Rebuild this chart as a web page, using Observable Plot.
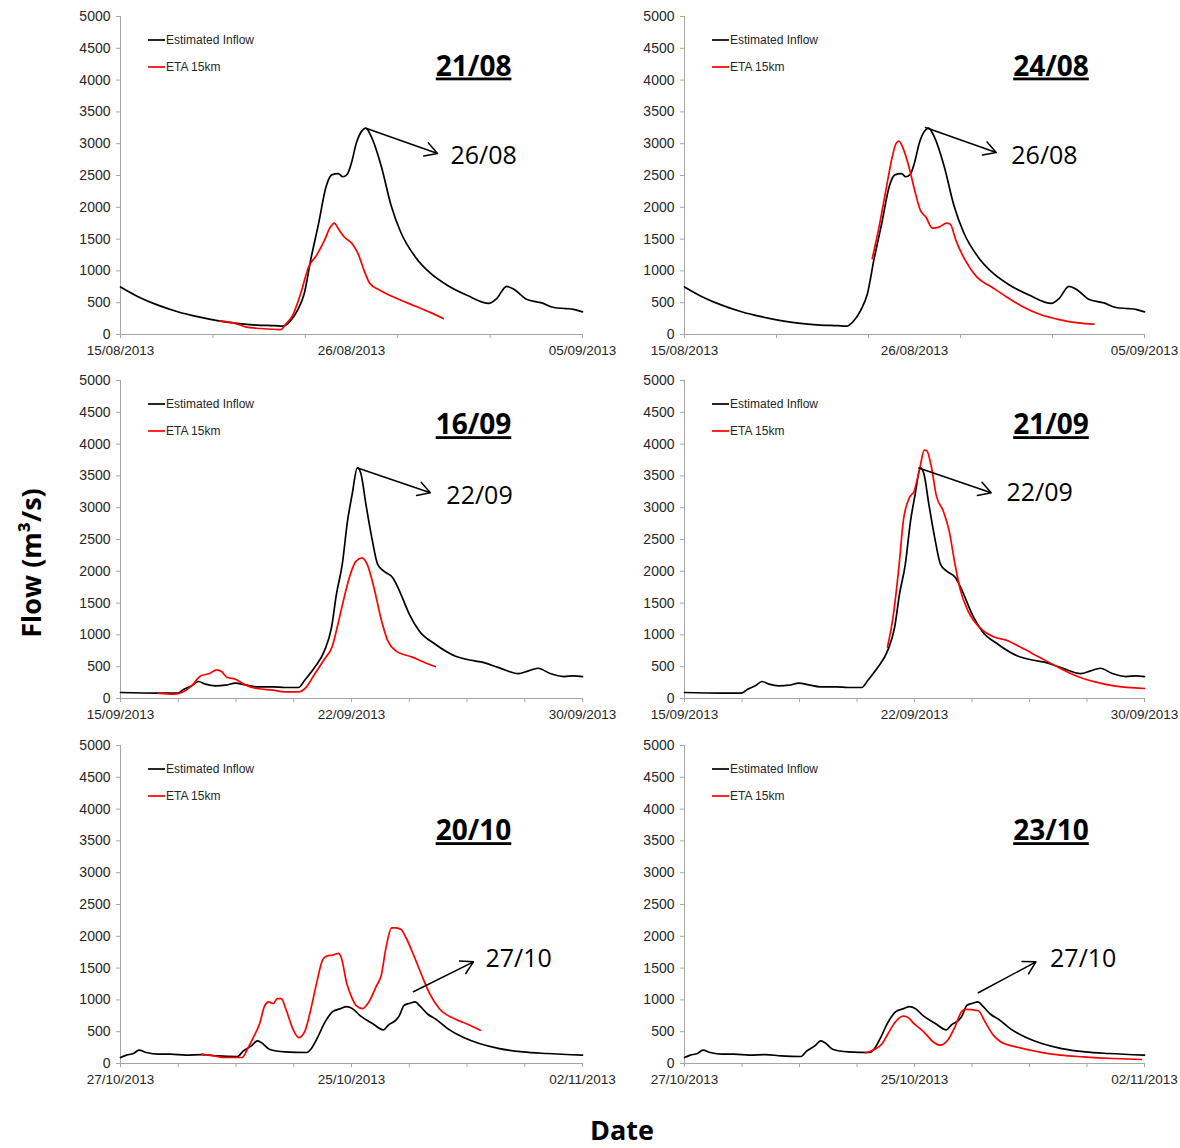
<!DOCTYPE html>
<html><head><meta charset="utf-8">
<script src="https://cdn.jsdelivr.net/npm/d3@7"></script>
<script src="https://cdn.jsdelivr.net/npm/@observablehq/plot@0.6"></script>
<style>
html,body{margin:0;padding:0;background:#fff;}
body{width:1180px;height:1148px;position:relative;overflow:hidden;font-family:"Liberation Sans",Arial,sans-serif;}
.panel{position:absolute;}
#ytitle{position:absolute;left:30px;top:563px;transform:translate(-50%,-50%) rotate(-90deg);font-family:"Open Sans",sans-serif;font-weight:700;font-size:27px;white-space:nowrap;color:#000;}
#xtitle{position:absolute;left:622px;top:1139px;transform:translate(-50%,-78%);font-family:"Open Sans",sans-serif;font-weight:700;font-size:27px;line-height:1.2;color:#000;}
</style></head><body>
<div id="ytitle">Flow (m³/s)</div>
<div id="xtitle">Date</div>
<script>
// ---------- DATA (days since start of each period, flow in m³/s) ----------
const seriesNames = ["Estimated Inflow", "ETA 15km"];

// Period A: 15/08/2013 – 05/09/2013 (21 days)
const inflowA_day  = [0,0.8,1.7,2.6,3.5,4.4,5.3,6.2,7.0,7.4,7.7,8.05,8.35,8.65,9.0,9.35,9.6,9.9,10.1,10.3,10.5,10.72,10.98,11.15,11.4,11.85,12.3,12.75,13.4,14.1,14.85,15.75,16.75,17.1,17.55,17.9,18.45,19.15,19.7,20.25,20.6,21];
const inflowA_flow = [748,595,462,358,280,218,175,148,138,131,205,385,640,1180,1740,2330,2510,2530,2480,2516,2700,3010,3206,3245,3110,2650,2030,1600,1220,960,775,617,488,565,758,706,554,497,424,408,395,356];
const eta2108_day  = [4.5,5.13,5.67,6.39,7.29,7.47,7.83,8.19,8.55,8.91,9.27,9.54,9.72,9.9,10.17,10.53,10.8,11.07,11.34,11.79,12.51,13.41,14.13,14.67];
const eta2108_flow = [209,183,120,94,78,146,303,643,1062,1245,1480,1689,1752,1663,1532,1428,1271,1009,800,696,575,445,340,251];
const eta2408_day  = [8.57,8.88,9.22,9.48,9.65,9.79,9.99,10.25,10.51,10.77,11.02,11.31,11.62,11.97,12.14,12.39,12.82,13.34,14.02,14.71,15.4,16.25,17.11,17.97,18.69];
const eta2408_flow = [1192,1689,2317,2788,2997,3039,2918,2631,2265,1951,1846,1674,1689,1752,1731,1480,1166,905,748,591,445,314,235,183,162];

// Period B: 15/09/2013 – 30/09/2013 (15 days)
const inflowB_day  = [0,1.22,1.86,2.06,2.31,2.53,2.76,3.08,3.41,3.73,4.05,4.43,4.95,5.33,5.78,5.98,6.3,6.62,6.85,7.01,7.2,7.37,7.52,7.69,7.8,7.97,8.16,8.35,8.55,8.84,9.06,9.38,9.7,10.22,10.86,11.38,11.7,12.28,12.92,13.24,13.56,13.95,14.4,14.72,15];
const inflowB_flow = [94,84,84,146,199,267,225,199,209,241,214,183,183,173,173,288,486,748,1114,1637,2108,2788,3206,3625,3546,3049,2526,2108,2003,1898,1689,1323,1062,853,669,601,575,486,392,434,476,392,345,356,345];
const eta1609_day  = [1.22,1.73,1.99,2.31,2.61,2.89,3.12,3.28,3.47,3.73,4.05,4.43,4.95,5.33,5.78,6.04,6.3,6.62,6.88,7.07,7.26,7.46,7.65,7.84,8.01,8.23,8.45,8.68,8.94,9.45,9.84,10.22];
const eta1609_flow = [84,68,94,199,356,392,450,424,330,303,214,157,131,105,105,183,382,617,826,1192,1585,1951,2160,2212,2108,1742,1271,905,748,654,575,502];
const eta2109_day  = [6.62,6.8,6.99,7.14,7.35,7.48,7.66,7.82,7.9,8.05,8.21,8.45,8.63,8.82,9.0,9.24,9.73,10.1,10.52,10.95,11.56,12.17,12.78,13.39,14.0,15];
const eta2109_flow = [809,1279,2061,2808,3173,3251,3591,3904,3894,3643,3194,2933,2636,2114,1696,1383,1070,966,913,809,652,496,355,261,198,157];

// Period C: 18/10/2013 – 02/11/2013 (15 days)
const inflowC_day  = [0,0.19,0.42,0.6,0.84,1.22,1.61,2.12,2.64,3.15,3.8,3.99,4.25,4.44,4.57,4.83,5.34,6.05,6.18,6.37,6.63,6.89,7.15,7.34,7.53,7.79,8.18,8.54,8.69,8.95,9.05,9.21,9.4,9.57,9.72,9.98,10.24,10.62,11.14,11.65,12.3,13.07,13.84,15];
const inflowC_flow = [94,131,157,209,173,146,146,131,141,120,110,199,277,356,330,225,183,173,225,382,643,816,863,894,863,748,628,528,601,685,748,915,947,968,905,774,696,549,408,314,235,183,157,131];
const eta2010_day  = [2.64,3.03,3.41,3.95,4.12,4.31,4.51,4.68,4.81,4.96,5.09,5.22,5.37,5.6,5.79,5.99,6.18,6.37,6.57,6.7,6.89,7.08,7.17,7.34,7.51,7.66,7.86,8.05,8.31,8.46,8.63,8.8,8.95,9.11,9.27,9.53,9.79,10.05,10.37,10.88,11.27,11.68];
const eta2010_flow = [146,120,94,94,225,408,617,905,968,941,1020,1020,853,539,408,513,853,1271,1637,1689,1705,1731,1663,1271,1036,905,863,957,1219,1376,1846,2134,2134,2108,1977,1689,1376,1088,853,696,617,523];
const eta2310_day  = [5.9,6.15,6.45,6.64,6.88,7.13,7.25,7.5,7.8,8.11,8.33,8.6,8.82,9.03,9.15,9.58,9.8,10.07,10.31,10.8,11.54,12.27,13.0,13.98,14.9];
const eta2310_flow = [168,210,315,472,656,745,735,619,499,341,289,378,577,813,850,829,656,446,341,262,184,131,105,79,63];

// Tick labels
const xLabelsA = ["15/08/2013", "26/08/2013", "05/09/2013"];
const xLabelsB = ["15/09/2013", "22/09/2013", "30/09/2013"];
const xLabelsC = ["27/10/2013", "25/10/2013", "02/11/2013"];
const yTicks = d3.range(0, 5001, 500);

// Panel titles (forecast issue dates) and peak annotations
const panelTitles = ["21/08", "24/08", "16/09", "21/09", "20/10", "23/10"];
const peakLabels  = ["26/08", "26/08", "22/09", "22/09", "27/10", "27/10"];

// ---------- BUILD ----------
const toRows = (days, flows) => days.map((d, i) => ({day: d, flow: flows[i]}));

const panels = [
  {span: 21, intervals: 5, labels: xLabelsA, inflow: toRows(inflowA_day, inflowA_flow), eta: toRows(eta2108_day, eta2108_flow),
   title: [16.05, 4213], note: [15.0, 2814], arrow: [11.16, 3243, 14.41, 2845]},
  {span: 21, intervals: 5, labels: xLabelsA, inflow: toRows(inflowA_day, inflowA_flow), eta: toRows(eta2408_day, eta2408_flow),
   title: [16.73, 4213], note: [14.92, 2814], arrow: [11.0, 3254, 14.23, 2861]},
  {span: 15, intervals: 8, labels: xLabelsB, inflow: toRows(inflowB_day, inflowB_flow), eta: toRows(eta1609_day, eta1609_flow),
   title: [11.46, 4297], note: [10.58, 3188], arrow: [7.7, 3625, 10.06, 3234]},
  {span: 15, intervals: 8, labels: xLabelsB, inflow: toRows(inflowB_day, inflowB_flow), eta: toRows(eta2109_day, eta2109_flow),
   title: [11.95, 4297], note: [10.5, 3234], arrow: [7.64, 3625, 10.0, 3234]},
  {span: 15, intervals: 8, labels: xLabelsC, inflow: toRows(inflowC_day, inflowC_flow), eta: toRows(eta2010_day, eta2010_flow),
   title: [11.46, 3652], note: [11.85, 1645], arrow: [9.51, 1128, 11.46, 1598]},
  {span: 15, intervals: 8, labels: xLabelsC, inflow: toRows(inflowC_day, inflowC_flow), eta: toRows(eta2310_day, eta2310_flow),
   title: [11.95, 3652], note: [11.92, 1645], arrow: [9.58, 1112, 11.46, 1598]}
];

const rowTops = [0, 364, 729];
const axisGray = "#a6a6a6";
const textCol = "#262626";

panels.forEach((p, k) => {
  const col = k % 2, row = Math.floor(k / 2);
  const mL = col === 0 ? 120 : 94;
  const mR = col === 0 ? 8 : 36;
  const mT = 16, mB = 31;
  const labelPos = [0, p.span / 2, p.span];
  const labelMap = new Map(labelPos.map((v, i) => [v, p.labels[i]]));
  const tickPos = d3.range(p.intervals + 1).map(i => i * p.span / p.intervals);

  const chart = Plot.plot({
    width: 590, height: 365,
    marginLeft: mL, marginRight: mR, marginTop: mT, marginBottom: mB,
    style: {fontFamily: "'Liberation Sans', Arial, sans-serif", fontSize: "14px", color: textCol, background: "transparent", overflow: "visible"},
    x: {domain: [0, p.span]},
    y: {domain: [0, 5000]},
    marks: [
      Plot.axisY({ticks: yTicks, tickSize: 4, tickPadding: 6, stroke: axisGray, tickFormat: "d", fill: textCol, fontSize: 14, label: null}),
      Plot.axisX({ticks: tickPos, tickSize: 4, tickFormat: () => "", stroke: axisGray, label: null}),
      Plot.axisX({ticks: labelPos, tickSize: 0, tickPadding: 11, tickFormat: d => labelMap.get(d), fill: textCol, fontSize: 13.5, label: null}),
      Plot.ruleX([0], {stroke: axisGray, strokeWidth: 1}),
      Plot.ruleY([0], {stroke: axisGray, strokeWidth: 1}),
      Plot.line(p.inflow, {x: "day", y: "flow", stroke: "#000", strokeWidth: 1.7, curve: "monotone-x"}),
      Plot.line(p.eta, {x: "day", y: "flow", stroke: "#ff0000", strokeWidth: 1.7, curve: "monotone-x"}),
      Plot.arrow([p.arrow], {x1: d => d[0], y1: d => d[1], x2: d => d[2], y2: d => d[3], stroke: "#000", strokeWidth: 1.5, headLength: 14, bend: 0}),
      Plot.text([peakLabels[k]], {x: () => p.note[0], y: () => p.note[1], textAnchor: "start", lineAnchor: "middle", fontSize: 25, fill: "#000", fontFamily: "'Open Sans', sans-serif"}),
      Plot.text([panelTitles[k]], {x: () => p.title[0], y: () => p.title[1], textAnchor: "middle", lineAnchor: "middle", fontSize: 28, fontWeight: 700, fill: "#000", fontFamily: "'Open Sans', sans-serif"})
    ]
  });

  const wrap = document.createElement("div");
  wrap.className = "panel";
  wrap.style.left = (col * 590) + "px";
  wrap.style.top = rowTops[row] + "px";
  wrap.appendChild(chart);
  document.body.appendChild(wrap);

  const svg = d3.select(chart);
  svg.selectAll('g[font-size="28"] text').style("text-decoration", "underline");

  // legend
  const lg = svg.append("g").attr("font-family", "'Liberation Sans', Arial, sans-serif")
    .attr("font-size", 12).attr("text-anchor", "start");
  [["#000", 24], ["#ff0000", 51]].forEach(([c, dy], i) => {
    lg.append("line").attr("x1", mL + 28).attr("x2", mL + 45).attr("y1", mT + dy).attr("y2", mT + dy)
      .attr("stroke", c).attr("stroke-width", 1.7);
    lg.append("text").attr("x", mL + 46).attr("y", mT + dy).attr("dy", "0.35em").attr("fill", textCol)
      .attr("text-anchor", "start").text(seriesNames[i]);
  });
});
</script>
</body></html>
